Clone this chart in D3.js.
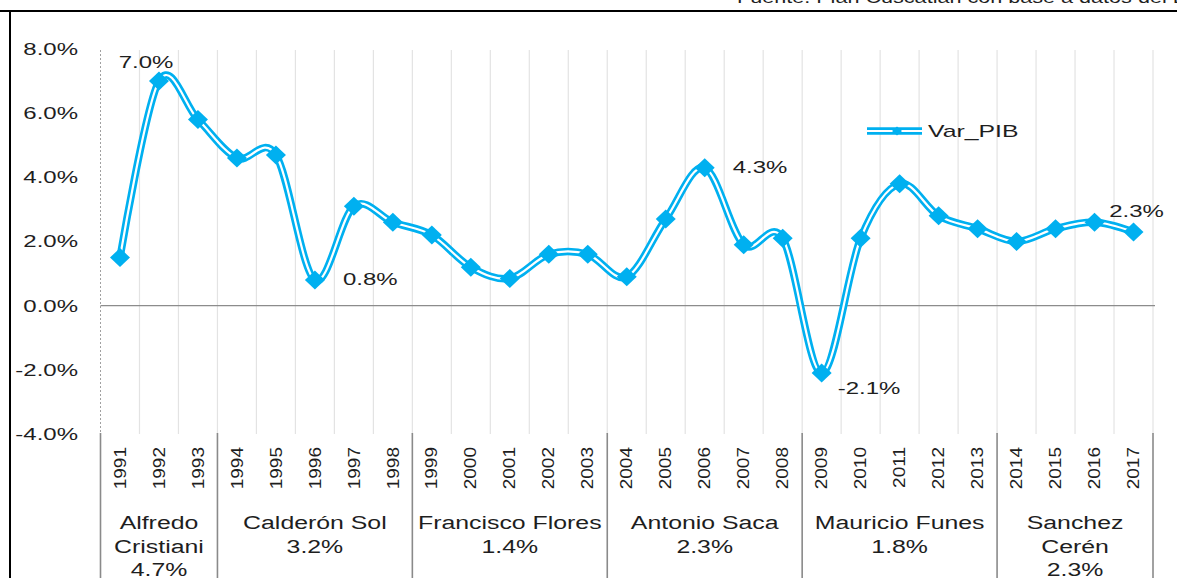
<!DOCTYPE html>
<html><head><meta charset="utf-8">
<script src="https://cdn.jsdelivr.net/npm/d3@7"></script>
<style>
html,body{margin:0;padding:0;background:#fff;overflow:hidden}
text{font-family:"Liberation Sans",Arial,sans-serif;fill:#1e1e1e}
</style></head>
<body><svg id="c" width="1177" height="578"></svg>
<script>
const years = ["1991","1992","1993","1994","1995","1996","1997","1998","1999","2000","2001","2002","2003","2004","2005","2006","2007","2008","2009","2010","2011","2012","2013","2014","2015","2016","2017"];
const varPIB = [1.5,7.0,5.8,4.6,4.7,0.8,3.1,2.6,2.2,1.2,0.85,1.6,1.6,0.9,2.7,4.3,1.9,2.1,-2.1,2.1,3.8,2.8,2.4,2.0,2.4,2.6,2.3];
const yTicks = [-4,-2,0,2,4,6,8];
const presidentLines = [["Alfredo","Cristiani"],["Calderón Sol"],["Francisco Flores"],["Antonio Saca"],["Mauricio Funes"],["Sanchez","Cerén"]];
const presidentAvg = ["4.7%","3.2%","1.4%","2.3%","1.8%","2.3%"];
const presidentFirst = ["1991","1994","1999","2004","2009","2014"];
const presidentLast = ["1993","1998","2003","2008","2013","2017"];
const labelYears = ["1992","1996","2006","2009","2017"];
const labelText = ["7.0%","0.8%","4.3%","-2.1%","2.3%"];
const seriesName = "Var_PIB";
const sourceText = "Fuente: Plan Cuscatlán con base a datos del BCR";

const svg = d3.select("#c");
const blue = "#00B0F0";
const x = d3.scaleBand().domain(years).range([100.5, 1153]);
const y = d3.scaleLinear().domain([-4, 8]).range([434, 49]);
const step = x.step();

function txt(g, px, py, s, size, sx, anchor, extra){
  return g.append("text").attr("transform", `translate(${px},${py}) ${extra||""} scale(${sx},1)`)
    .attr("text-anchor", anchor).attr("dominant-baseline","central").style("font-size", size+"px").text(s);
}

// frame
svg.append("line").attr("x1",0).attr("x2",1177).attr("y1",11).attr("y2",11).attr("stroke","#000").attr("stroke-width",2);
svg.append("line").attr("x1",10).attr("x2",10).attr("y1",11).attr("y2",578).attr("stroke","#000").attr("stroke-width",2);
svg.append("text").attr("transform","translate(737,3) scale(1.35,1)").style("font-size","16px").text(sourceText);

// vertical gridlines
years.forEach((yr,i)=>{
  const gx = x(yr) + step;
  svg.append("line").attr("x1",gx).attr("x2",gx).attr("y1",50).attr("y2",434).attr("stroke","#e3e3e3").attr("stroke-width",1.2);
});
svg.append("line").attr("x1",x.range()[0]).attr("x2",x.range()[0]).attr("y1",50).attr("y2",434)
  .attr("stroke","#a0a0a0").attr("stroke-width",1).attr("stroke-dasharray","2,2");

// zero line
svg.append("line").attr("x1",x.range()[0]).attr("x2",1155).attr("y1",y(0)).attr("y2",y(0)).attr("stroke","#8c8c8c").attr("stroke-width",1.3);

// y axis
const ya = svg.append("g").attr("transform","translate(100,0)")
  .call(d3.axisLeft(y).tickValues(yTicks).tickSize(0).tickFormat(d=>d.toFixed(1)+"%"));
ya.select(".domain").remove();
ya.selectAll("text").attr("x",0).attr("dy",null).attr("dominant-baseline","central")
  .attr("transform","translate(-22,0) scale(1.5,1)")
  .style("font-size","16px").style("font-family","'Liberation Sans',Arial,sans-serif").attr("fill","#1e1e1e");

// x axis (years)
const xa = svg.append("g").attr("transform","translate(0,434)")
  .call(d3.axisBottom(x).tickSize(0));
xa.select(".domain").remove();
xa.selectAll("text").attr("y",0).attr("dy",null).attr("text-anchor","end").attr("dominant-baseline","central")
  .attr("transform","translate(0,13) rotate(-90) scale(1.12,1)")
  .style("font-size","17px").style("font-family","'Liberation Sans',Arial,sans-serif").attr("fill","#1e1e1e");

// group separators and labels
const seps = presidentFirst.map(f=>x(f)).concat([x(years[years.length-1])+step]);
seps.forEach(sx=>{
  svg.append("line").attr("x1",sx).attr("x2",sx).attr("y1",433).attr("y2",578).attr("stroke","#8a8a8a").attr("stroke-width",1.6);
});
presidentLines.forEach((lines,i)=>{
  const cx = (x(presidentFirst[i]) + x(presidentLast[i]) + step)/2;
  const all = lines.concat([presidentAvg[i]]);
  all.forEach((ln,j)=>{
    txt(svg, cx, 523 + j*23.5, ln, 18, 1.38, "middle");
  });
});

// line
const pts = years.map((yr,i)=>[x(yr)+step/2, y(varPIB[i])]);
const lineGen = d3.line().curve(d3.curveCardinal.tension(0));
svg.append("path").attr("d", lineGen(pts)).attr("fill","none").attr("stroke",blue).attr("stroke-width",7.5).attr("stroke-linejoin","round");
svg.append("path").attr("d", lineGen(pts)).attr("fill","none").attr("stroke","#fff").attr("stroke-width",2.2).attr("stroke-linejoin","round");

const diamond = (rx,ry)=>`M0,${-ry}L${rx},0L0,${ry}L${-rx},0Z`;
svg.selectAll("path.mk").data(pts).enter().append("path").attr("class","mk")
  .attr("transform",d=>`translate(${d[0]},${d[1]})`).attr("d",diamond(10,9.5)).attr("fill",blue);

// data labels
const lblOff = [[-13,-19],[28,0],[28,0],[16,15],[3,-20]];
const lblAnchor = ["middle","start","start","start","middle"];
labelYears.forEach((yr,i)=>{
  const idx = years.indexOf(yr);
  const px = x(yr)+step/2 + lblOff[i][0], py = y(varPIB[idx]) + lblOff[i][1];
  txt(svg, px, py, labelText[i], 16, 1.5, lblAnchor[i]);
});

// legend
svg.append("line").attr("x1",867).attr("x2",922).attr("y1",131).attr("y2",131).attr("stroke",blue).attr("stroke-width",7.5);
svg.append("line").attr("x1",867).attr("x2",922).attr("y1",131).attr("y2",131).attr("stroke","#fff").attr("stroke-width",2.2);
svg.append("path").attr("transform","translate(897,131)").attr("d",diamond(5,4.5)).attr("fill",blue);
txt(svg, 928, 131, seriesName, 16, 1.55, "start");
</script></body></html>
